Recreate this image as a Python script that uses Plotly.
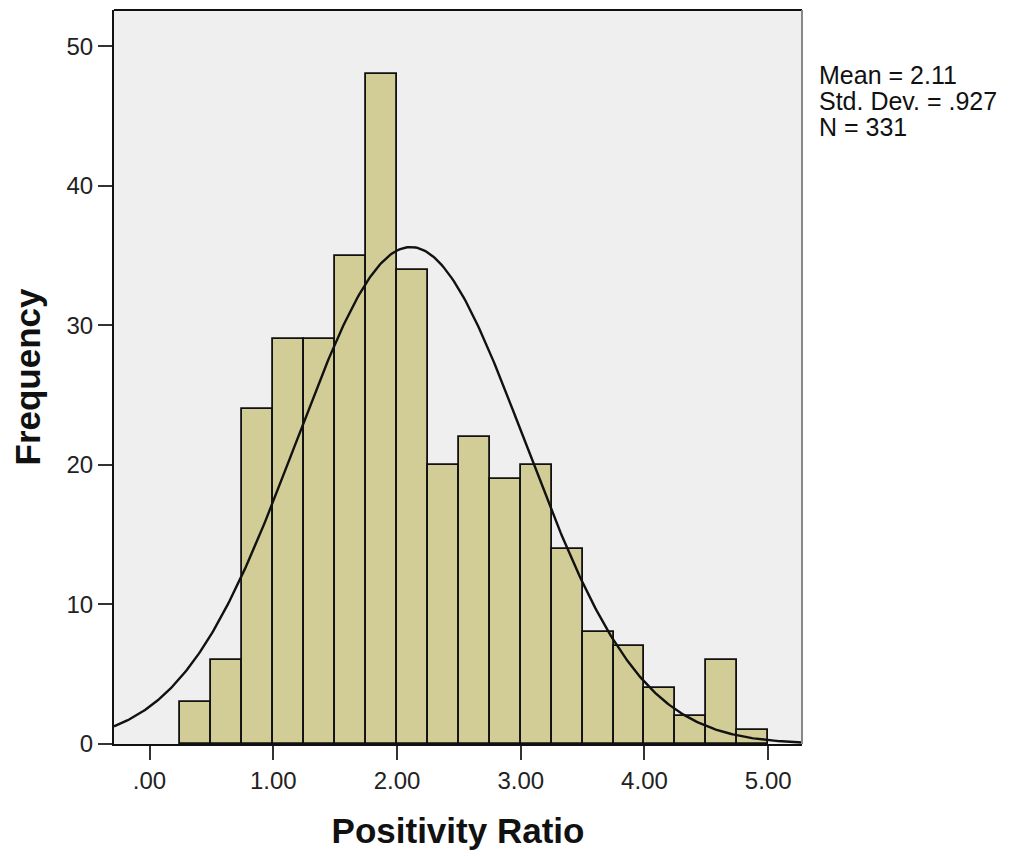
import numpy as np
import plotly.graph_objects as go

# Histogram data (bin width 0.25)
bin_left = [0.25, 0.50, 0.75, 1.00, 1.25, 1.50, 1.75, 2.00, 2.25, 2.50,
            2.75, 3.00, 3.25, 3.50, 3.75, 4.00, 4.25, 4.50, 4.75]
counts = [3, 6, 24, 29, 29, 35, 48, 34, 20, 22,
          19, 20, 14, 8, 7, 4, 2, 6, 1]
bin_width = 0.25

mean_val = 2.11
sd_val = 0.927
n_val = 331

x_tickvals = [0, 1, 2, 3, 4, 5]
x_ticktext = [".00", "1.00", "2.00", "3.00", "4.00", "5.00"]
y_tickvals = [0, 10, 20, 30, 40, 50]

x_range = [-0.287, 5.273]
y_range = [0, 52.6]

FONT = "Arial, 'Liberation Sans', sans-serif"

centers = [b + bin_width / 2 for b in bin_left]

fig = go.Figure()
fig.add_trace(go.Bar(
    x=centers, y=counts, width=bin_width,
    marker=dict(color="#D2CD96", line=dict(color="#111111", width=1.8)),
    showlegend=False, hoverinfo="x+y"))

# fitted normal curve
xs = np.linspace(x_range[0], x_range[1], 400)
ys = n_val * bin_width / (sd_val * np.sqrt(2 * np.pi)) * np.exp(-0.5 * ((xs - mean_val) / sd_val) ** 2)
fig.add_trace(go.Scatter(x=xs, y=ys, mode="lines",
                         line=dict(color="#111111", width=2.4),
                         showlegend=False, hoverinfo="skip"))

fig.update_layout(
    width=1003, height=848,
    margin=dict(l=106, r=209, t=2, b=112),
    paper_bgcolor="white", plot_bgcolor="#EFEFEF",
    font=dict(family=FONT, size=24, color="#222222"),
    bargap=0,
    xaxis=dict(range=x_range, tickvals=x_tickvals, ticktext=x_ticktext,
               showgrid=False, zeroline=False, showline=True,
               linecolor="#111111", linewidth=2,
               ticks="outside", ticklen=14, tickwidth=2, tickcolor="#333333",
               tickfont=dict(size=24, color="#222222"),
               title=dict(text="<b>Positivity Ratio</b>", font=dict(size=35, color="#111111"),
                          standoff=26)),
    yaxis=dict(range=y_range, tickvals=y_tickvals,
               showgrid=False, zeroline=False, showline=True,
               linecolor="#111111", linewidth=2,
               ticks="outside", ticklen=14, tickwidth=2, tickcolor="#333333",
               tickfont=dict(size=24, color="#222222"),
               title=dict(text="<b>Frequency</b>", font=dict(size=35, color="#111111"),
                          standoff=20)),
)

# top and right frame lines
fig.add_shape(type="line", xref="paper", yref="paper", x0=0, x1=1, y0=1, y1=1,
              line=dict(color="#111111", width=2))
fig.add_shape(type="line", xref="paper", yref="paper", x0=1, x1=1, y0=0, y1=1,
              line=dict(color="#888888", width=2))

stats_lines = [f"Mean = {mean_val:.2f}", "Std. Dev. = .927", f"N = {n_val}"]
stats_y = [0.9114, 0.876, 0.8406]
for txt, yy in zip(stats_lines, stats_y):
    fig.add_annotation(text=txt, xref="paper", yref="paper", x=1.0225, y=yy,
                       xanchor="left", yanchor="middle", showarrow=False,
                       font=dict(size=25, color="#111111"))

fig.write_html("out.html")
